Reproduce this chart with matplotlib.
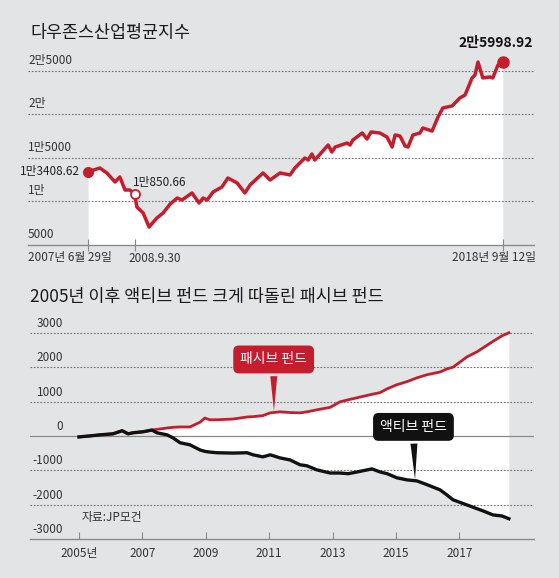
import numpy as np
import matplotlib
matplotlib.use("Agg")
import matplotlib.pyplot as plt
from matplotlib.transforms import blended_transform_factory

plt.rcParams["font.family"] = ["Noto Sans CJK KR", "DejaVu Sans"]

# ---------------------------------------------------------------------------
# Data
# ---------------------------------------------------------------------------
# Dow Jones Industrial Average, decimal years
dow_years = [2007.49, 2007.81, 2008.00, 2008.22, 2008.35, 2008.49, 2008.62, 2008.75,
             2008.81, 2008.98, 2009.14, 2009.35, 2009.52, 2009.71, 2009.90, 2010.03,
             2010.30, 2010.49, 2010.60, 2010.71, 2010.87, 2011.11, 2011.27, 2011.52,
             2011.73, 2011.87, 2012.22, 2012.41, 2012.68, 2012.95, 2013.08, 2013.35,
             2013.44, 2013.54, 2013.62, 2013.98, 2014.08, 2014.17, 2014.49, 2014.57,
             2014.65, 2014.90, 2015.03, 2015.14, 2015.38, 2015.57, 2015.71, 2015.79,
             2015.92, 2016.06, 2016.14, 2016.27, 2016.46, 2016.54, 2016.79, 2016.95,
             2017.08, 2017.33, 2017.54, 2017.68, 2017.87, 2017.95, 2018.03, 2018.16,
             2018.35, 2018.43, 2018.57, 2018.70]
dow_values = [13408.62, 13850, 13280, 12240, 12820, 11320, 11320, 10850.66,
              9370, 8680, 7070, 8100, 8680, 9710, 10400, 10170,
              10980, 9830, 10400, 10170, 11090, 11670, 12700, 12130,
              10980, 11900, 13280, 12470, 13280, 13050, 13850, 15000,
              14770, 15460, 14770, 16490, 15690, 16260, 16720, 16490,
              17070, 17870, 17180, 17990, 17870, 17410, 16260, 17640,
              17530, 16380, 16260, 17640, 17870, 18450, 18100, 19710,
              20750, 20980, 21900, 22240, 24200, 24540, 26030, 24200,
              24310, 24200, 25690, 25998.92]
dow_ticks = [5000, 10000, 15000, 20000, 25000]
dow_tick_labels = ["5000", "1만", "1만5000", "2만", "2만5000"]

# Cumulative fund flows (active vs passive), decimal years
fund_years = [2005.00, 2005.35, 2005.66, 2006.07, 2006.36, 2006.55, 2006.70, 2007.02,
              2007.30, 2007.46, 2007.78, 2007.97, 2008.19, 2008.50, 2008.82, 2008.97,
              2009.12, 2009.35, 2009.86, 2010.30, 2010.49, 2010.80, 2011.03, 2011.34,
              2011.66, 2011.97, 2012.19, 2012.51, 2012.92, 2013.23, 2013.49, 2013.77,
              2014.24, 2014.50, 2014.72, 2015.03, 2015.35, 2015.66, 2015.98, 2016.39,
              2016.61, 2016.80, 2017.24, 2017.56, 2017.74, 2018.06, 2018.34, 2018.56]
active = [-30, 0, 30, 60, 150, 60, 90, 120,
          170, 90, 30, -60, -200, -260, -410, -450,
          -470, -490, -500, -490, -550, -610, -550, -640,
          -700, -840, -870, -990, -1080, -1080, -1100, -1050,
          -960, -1050, -1100, -1220, -1280, -1310, -1420, -1570,
          -1720, -1860, -2010, -2120, -2180, -2300, -2330, -2410]
passive = [-30, 0, 30, 60, 150, 60, 90, 120,
           170, 190, 230, 250, 260, 260, 400, 520,
           470, 470, 490, 550, 560, 590, 670, 700,
           680, 670, 700, 760, 830, 990, 1050, 1110,
           1210, 1260, 1370, 1490, 1580, 1690, 1780, 1860,
           1950, 2000, 2300, 2450, 2560, 2750, 2910, 3000]
fund_ticks = [-3000, -2000, -1000, 0, 1000, 2000, 3000]
year_ticks = [2005, 2007, 2009, 2011, 2013, 2015, 2017]
year_labels = ["2005년", "2007", "2009", "2011", "2013", "2015", "2017"]

# ---------------------------------------------------------------------------
# Style
# ---------------------------------------------------------------------------
BG = "#e3e4e6"
RED = "#c41e2e"
BLACK = "#111111"
TXT = "#333333"
GRID = "#6f6f6f"

W, H = 559, 578


def px_rect(left, top, right, bottom):
    return [left / W, 1 - bottom / H, (right - left) / W, (bottom - top) / H]


def fx(x):
    return x / W


def fy(y):
    return 1 - y / H


fig = plt.figure(figsize=(W / 100, H / 100), dpi=100, facecolor=BG)

# ===========================================================================
# Top chart: Dow Jones
# ===========================================================================
ax1 = fig.add_axes(px_rect(28, 40, 534, 245))
ax1.set_facecolor("none")
ax1.set_xlim(2005.868, 2019.544)
ax1.set_ylim(5000, 28563)
for s in ["top", "left", "right"]:
    ax1.spines[s].set_visible(False)
ax1.spines["bottom"].set_color("#8a8a8a")
ax1.spines["bottom"].set_linewidth(1.0)
ax1.set_yticks([])
ax1.set_xticks([dow_years[0], dow_years[7], dow_years[-1]])
ax1.set_xticklabels([])
ax1.tick_params(axis="x", direction="inout", length=8, width=0.8, color="#8a8a8a")

ax1.fill_between(dow_years, dow_values, 5000, color="white", lw=0, zorder=1)
for v in dow_ticks[1:]:
    ax1.axhline(v, color=GRID, lw=0.8, ls=(0, (1.5, 1.5)), zorder=2)
tr1 = blended_transform_factory(ax1.transAxes, ax1.transData)
for v, lab in zip(dow_ticks, dow_tick_labels):
    ax1.annotate(lab, (0, v), xycoords=tr1, xytext=(0, 3), textcoords="offset points",
                 ha="left", va="bottom", fontsize=8.5, color=TXT, zorder=4)

ax1.plot(dow_years, dow_values, color=RED, lw=2.5, solid_joinstyle="round", zorder=3)
ax1.plot(dow_years[0], dow_values[0], "o", ms=7, color=RED, zorder=4)
ax1.plot(dow_years[-1], dow_values[-1], "o", ms=8, color=RED, zorder=4)
ax1.plot(dow_years[7], dow_values[7], "o", ms=6.5, mfc="white", mec=RED, mew=1.3, zorder=5)

ax1.annotate("1만3408.62", (dow_years[0], dow_values[0]), xytext=(-6, 0),
             textcoords="offset points", ha="right", va="center",
             fontsize=8.5, color="#222222", zorder=5)
ax1.annotate("1만850.66", (dow_years[7], dow_values[7]), xytext=(-1, 8),
             textcoords="offset points", ha="left", va="center",
             fontsize=8.5, color="#222222", zorder=5)
ax1.annotate("2만5998.92", (dow_years[-1], dow_values[-1]), xytext=(-5, 9),
             textcoords="offset points", ha="center", va="bottom",
             fontsize=10, fontweight="bold", color="#111111", zorder=5)

fig.text(fx(30), fy(33), "다우존스산업평균지수", fontsize=12.5, fontweight="medium",
         color="#1a1a1a", ha="left", va="center")
fig.text(fx(70), fy(258), "2007년 6월 29일", fontsize=8.5, color=TXT, ha="center", va="center")
fig.text(fx(128), fy(258), "2008.9.30", fontsize=8.5, color=TXT, ha="left", va="center")
fig.text(fx(536), fy(258), "2018년 9월 12일", fontsize=8.5, color=TXT, ha="right", va="center")

# ===========================================================================
# Bottom chart: active vs passive funds
# ===========================================================================
ax2 = fig.add_axes(px_rect(30, 320, 534, 539))
ax2.set_facecolor("none")
ax2.set_xlim(2003.454, 2019.353)
ax2.set_ylim(-3000, 3372)
for s in ["top", "left", "right"]:
    ax2.spines[s].set_visible(False)
ax2.spines["bottom"].set_color("#8a8a8a")
ax2.spines["bottom"].set_linewidth(1.0)
ax2.set_yticks([])
ax2.set_xticks(year_ticks)
ax2.set_xticklabels(year_labels, fontsize=8.5, color=TXT)
ax2.tick_params(axis="x", direction="in", length=5, width=0.8, color="#8a8a8a", pad=6)

ax2.fill_between(fund_years, passive, active, color="white", lw=0, zorder=1)
for v in fund_ticks[1:]:
    if v == 0:
        ax2.axhline(v, color="#8a8a8a", lw=0.9, zorder=2)
    else:
        ax2.axhline(v, color=GRID, lw=0.8, ls=(0, (1.5, 1.5)), zorder=2)
tr2 = blended_transform_factory(ax2.transAxes, ax2.transData)
for v in fund_ticks:
    ax2.annotate(f"{v}", (33 / 504, v), xycoords=tr2, xytext=(0, 2),
                 textcoords="offset points", ha="right", va="bottom",
                 fontsize=8.5, color=TXT, zorder=4)

ax2.plot(fund_years, passive, color=RED, lw=2.0, solid_joinstyle="round", zorder=3)
ax2.plot(fund_years, active, color=BLACK, lw=2.4, solid_joinstyle="round", zorder=3)

ax2.annotate("패시브 펀드", xy=(2011.15, 720), xytext=(2011.14, 2224),
             ha="center", va="center", fontsize=10, fontweight="medium", color="white",
             zorder=6,
             bbox=dict(boxstyle="round,pad=0.5,rounding_size=0.4", fc=RED, ec="none"),
             arrowprops=dict(arrowstyle="wedge,tail_width=0.5,shrink_factor=0.5",
                             fc=RED, ec="none", shrinkB=0))
ax2.annotate("액티브 펀드", xy=(2015.6, -1270), xytext=(2015.55, 262),
             ha="center", va="center", fontsize=10, fontweight="medium", color="white",
             zorder=6,
             bbox=dict(boxstyle="round,pad=0.5,rounding_size=0.4", fc=BLACK, ec="none"),
             arrowprops=dict(arrowstyle="wedge,tail_width=0.5,shrink_factor=0.5",
                             fc=BLACK, ec="none", shrinkB=0))

fig.text(fx(30), fy(297), "2005년 이후 액티브 펀드 크게 따돌린 패시브 펀드", fontsize=12.5,
         fontweight="medium", color="#1a1a1a", ha="left", va="center")
fig.text(fx(82), fy(517), "자료:JP모건", fontsize=8.5, color=TXT, ha="left", va="center")

fig.savefig("out.png", dpi=100, facecolor=BG)
